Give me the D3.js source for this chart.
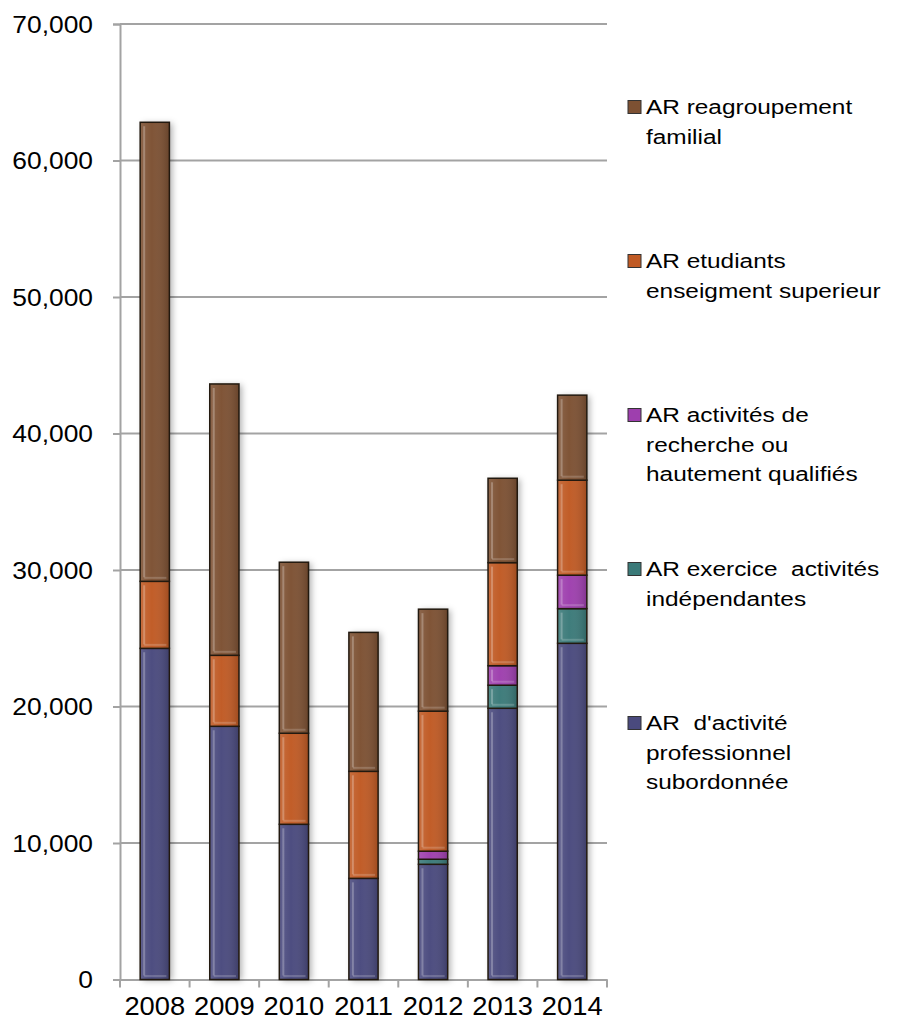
<!DOCTYPE html>
<html>
<head>
<meta charset="utf-8">
<script src="https://d3js.org/d3.v7.min.js"></script>
<style>
  body { margin: 0; background: #fff; }
  text { font-family: "Liberation Sans", Arial, sans-serif; fill: #000; }
</style>
</head>
<body>
<div id="my_dataviz"></div>
<script>
var margin = { top: 24, right: 290, bottom: 43.5, left: 120 },
    width = 897 - margin.left - margin.right,
    height = 1023 - margin.top - margin.bottom;

// data
const years = ["2008", "2009", "2010", "2011", "2012", "2013", "2014"];
const subordonnee = [24260, 18550, 11370, 7410, 8440, 19870, 24630];
const independantes = [0, 0, 0, 0, 370, 1690, 2540];
const recherche = [0, 0, 0, 0, 590, 1430, 2450];
const etudiants = [4910, 5200, 6670, 7840, 10260, 7550, 6960];
const familial = [33630, 19880, 12530, 10180, 7470, 6180, 6230];
const yTicks = [0, 10000, 20000, 30000, 40000, 50000, 60000, 70000];

const seriesNames = [
    ["AR  d'activité", "professionnel", "subordonnée"],
    ["AR exercice  activités", "indépendantes"],
    ["AR activités de", "recherche ou", "hautement qualifiés"],
    ["AR etudiants", "enseigment superieur"],
    ["AR reagroupement", "familial"]
];
const seriesColors = ["#4a4a7e", "#3b7a79", "#9e3fae", "#c05a24", "#7d5133"];
const seriesValues = [subordonnee, independantes, recherche, etudiants, familial];

let rows = years.map((y, i) => {
    let r = { year: y };
    seriesValues.forEach((s, k) => { r["s" + k] = s[i]; });
    return r;
});
let stack = d3.stack().keys(seriesValues.map((s, k) => "s" + k))(rows);

let svg = d3.select("#my_dataviz").append("svg")
    .attr("width", 897)
    .attr("height", 1023)

let defs = svg.append("defs")
defs.append("filter")
    .attr("id", "shadow")
    .attr("x", "-30%").attr("width", "180%")
    .append("feDropShadow")
    .attr("dx", 3).attr("dy", 1)
    .attr("stdDeviation", 3)
    .attr("flood-color", "#000")
    .attr("flood-opacity", 0.3)
let grad = defs.append("linearGradient").attr("id", "shade")
grad.append("stop").attr("offset", "0%").attr("stop-color", "#fff").attr("stop-opacity", 0.12)
grad.append("stop").attr("offset", "40%").attr("stop-color", "#fff").attr("stop-opacity", 0.02)
grad.append("stop").attr("offset", "100%").attr("stop-color", "#000").attr("stop-opacity", 0.18)

let g = svg.append("g")
    .attr("transform", "translate(" + margin.left + "," + margin.top + ")")

let x = d3.scaleBand()
    .domain(years)
    .range([0, width])
    .paddingInner(0.58)
    .paddingOuter(0.29);

let y = d3.scaleLinear()
    .domain([0, 70000])
    .range([height, 0]);

// stretch text horizontally, like the source picture
function stretch(sel, k) {
    sel.each(function () {
        let w = this.getComputedTextLength();
        d3.select(this).attr("textLength", w * k).attr("lengthAdjust", "spacingAndGlyphs");
    });
}

// gridlines
g.append("g")
    .selectAll("line")
    .data(yTicks.slice(1))
    .enter()
    .append("line")
    .attr("x1", 0).attr("x2", width)
    .attr("y1", d => y(d)).attr("y2", d => y(d))
    .attr("stroke", "#a3a3a3")
    .attr("stroke-width", 2)

// y axis
let yAxis = g.append("g")
    .call(d3.axisLeft(y).tickValues(yTicks).tickSize(7).tickPadding(20).tickFormat(d3.format(",")))
yAxis.select(".domain").attr("stroke", "#a3a3a3").attr("stroke-width", 2)
yAxis.selectAll(".tick line").attr("stroke", "#a3a3a3").attr("stroke-width", 2)
yAxis.selectAll("text")
    .style("font-family", "Liberation Sans, Arial, sans-serif")
    .style("font-size", "24px")
    .attr("dy", "0.35em")
    .call(stretch, 1.1)

// x axis
let xAxis = g.append("g")
    .attr("transform", "translate(0," + height + ")")
    .call(d3.axisBottom(x).tickSize(0).tickPadding(17))
xAxis.select(".domain").attr("stroke", "#a3a3a3").attr("stroke-width", 2)
xAxis.selectAll("text")
    .style("font-family", "Liberation Sans, Arial, sans-serif")
    .style("font-size", "26px")
    .call(stretch, 1.05)
xAxis.selectAll(".sep")
    .data(d3.range(years.length + 1))
    .enter()
    .append("line")
    .attr("x1", i => i * x.step()).attr("x2", i => i * x.step())
    .attr("y1", 0).attr("y2", 8)
    .attr("stroke", "#a3a3a3")
    .attr("stroke-width", 2)

// bars
let bars = g.append("g")
let segs = []
stack.forEach((layer, k) => {
    layer.forEach((d, i) => {
        if (d[1] - d[0] > 0) segs.push({ k: k, year: years[i], y0: d[0], y1: d[1] });
    });
});

bars.selectAll(".shadow")
    .data(years)
    .enter()
    .append("rect")
    .attr("x", d => x(d))
    .attr("width", x.bandwidth())
    .attr("y", (d, i) => y(stack[stack.length - 1][i][1]))
    .attr("height", (d, i) => y(0) - y(stack[stack.length - 1][i][1]))
    .attr("fill", "#fff")
    .attr("filter", "url(#shadow)")

let seg = bars.selectAll(".seg")
    .data(segs)
    .enter()
    .append("g")
    .attr("class", "seg")

seg.append("rect")
    .attr("x", d => x(d.year))
    .attr("y", d => y(d.y1))
    .attr("width", x.bandwidth())
    .attr("height", d => y(d.y0) - y(d.y1))
    .attr("fill", d => seriesColors[d.k])

seg.append("rect")
    .attr("x", d => x(d.year))
    .attr("y", d => y(d.y1))
    .attr("width", x.bandwidth())
    .attr("height", d => y(d.y0) - y(d.y1))
    .attr("fill", "url(#shade)")

// bevel highlights
seg.filter(d => y(d.y0) - y(d.y1) > 10)
    .append("line")
    .attr("x1", d => x(d.year) + 4).attr("x2", d => x(d.year) + 4)
    .attr("y1", d => y(d.y1) + 4).attr("y2", d => y(d.y0) - 4)
    .attr("stroke", "#fff").attr("stroke-opacity", 0.25).attr("stroke-width", 2)
seg.filter(d => y(d.y0) - y(d.y1) > 10)
    .append("line")
    .attr("x1", d => x(d.year) + 4).attr("x2", d => x(d.year) + x.bandwidth() - 3)
    .attr("y1", d => y(d.y0) - 3.5).attr("y2", d => y(d.y0) - 3.5)
    .attr("stroke", "#fff").attr("stroke-opacity", 0.18).attr("stroke-width", 2)

seg.append("rect")
    .attr("x", d => x(d.year))
    .attr("y", d => y(d.y1))
    .attr("width", x.bandwidth())
    .attr("height", d => y(d.y0) - y(d.y1))
    .attr("fill", "none")
    .attr("stroke", "#22190f")
    .attr("stroke-width", 1.5)

// legend, top entry is the last series
let legend = svg.append("g")
let order = [4, 3, 2, 1, 0]
let entry = legend.selectAll(".entry")
    .data(order)
    .enter()
    .append("g")
    .attr("transform", (k, i) => "translate(628," + (107 + i * 154) + ")")

entry.append("rect")
    .attr("x", 0).attr("y", -6.5)
    .attr("width", 13).attr("height", 13)
    .attr("fill", k => seriesColors[k])
    .attr("stroke", "#333")
    .attr("stroke-width", 1)

entry.each(function (k) {
    d3.select(this).selectAll("text")
        .data(seriesNames[k])
        .enter()
        .append("text")
        .attr("x", 18)
        .attr("y", (d, j) => j * 29.5)
        .attr("dy", "0.35em")
        .style("font-size", "20px")
        .style("white-space", "pre")
        .text(d => d)
        .call(stretch, 1.22)
})
</script>
</body>
</html>
